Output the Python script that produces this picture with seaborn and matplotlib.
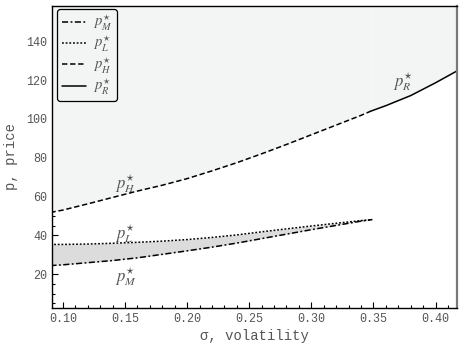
import numpy as np
import pandas as pd
import matplotlib
matplotlib.use("Agg")
import matplotlib.pyplot as plt
from matplotlib.ticker import MultipleLocator, FormatStrFormatter
import seaborn as sns

# Price thresholds against volatility
sigma_h = [0.09, 0.10, 0.12, 0.14, 0.16, 0.18, 0.20, 0.22, 0.24, 0.26, 0.28, 0.30, 0.32, 0.34, 0.348]
p_high = [51.8, 53.0, 56.2, 59.5, 62.8, 65.8, 69.2, 73.2, 77.4, 82.0, 86.8, 91.8, 96.8, 101.8, 104.0]

sigma_r = [0.348, 0.36, 0.38, 0.39, 0.40, 0.417]
p_reserve = [104.0, 106.8, 112.0, 115.3, 118.6, 124.6]

sigma_lm = [0.09, 0.10, 0.12, 0.14, 0.16, 0.18, 0.20, 0.22, 0.24, 0.26, 0.28, 0.30, 0.32, 0.34, 0.349]
p_low = [35.3, 35.3, 35.5, 35.9, 36.4, 37.0, 37.8, 38.9, 40.2, 41.8, 43.3, 44.8, 46.2, 47.6, 48.1]
p_mid = [24.4, 24.8, 25.9, 27.0, 28.4, 30.2, 32.0, 33.9, 36.0, 38.3, 40.6, 42.9, 45.1, 47.3, 48.1]

x_ticks = [0.10, 0.15, 0.20, 0.25, 0.30, 0.35, 0.40]
y_ticks = [20, 40, 60, 80, 100, 120, 140]
x_range = (0.0915, 0.417)
y_range = (2.7, 158.3)

sns.set_theme(style="ticks")
plt.rcParams["font.family"] = ["Liberation Mono", "DejaVu Sans"]
plt.rcParams["mathtext.fontset"] = "stix"

text_grey = "#555555"
upper_fill = "#f3f5f5"
band_fill = "#dcdcdc"

fig = plt.figure(figsize=(4.69, 3.49), dpi=100)
ax = fig.add_axes([0.1115, 0.1183, 0.8623, 0.8654])

df_h = pd.DataFrame({"sigma": sigma_h, "p": p_high})
df_r = pd.DataFrame({"sigma": sigma_r, "p": p_reserve})
df_l = pd.DataFrame({"sigma": sigma_lm, "p": p_low})
df_m = pd.DataFrame({"sigma": sigma_lm, "p": p_mid})

# shaded regions
ax.fill_between(sigma_h, p_high, y_range[1], color=upper_fill, lw=0)
ax.fill_between(sigma_r, p_reserve, y_range[1], color=upper_fill, lw=0)
ax.fill_between(sigma_lm, p_mid, p_low, color=band_fill, lw=0)

lw = 1.1
sns.lineplot(data=df_m, x="sigma", y="p", ax=ax, color="black", lw=lw,
             linestyle=(0, (4, 1.6, 1.2, 1.6)), label=r"$p_M^{\star}$")
sns.lineplot(data=df_l, x="sigma", y="p", ax=ax, color="black", lw=lw,
             linestyle=(0, (1.2, 1.2)), label=r"$p_L^{\star}$")
sns.lineplot(data=df_h, x="sigma", y="p", ax=ax, color="black", lw=lw,
             linestyle=(0, (3.5, 1.8)), label=r"$p_H^{\star}$")
sns.lineplot(data=df_r, x="sigma", y="p", ax=ax, color="black", lw=lw,
             linestyle="-", label=r"$p_R^{\star}$")

ax.set_xlim(*x_range)
ax.set_ylim(*y_range)
ax.set_xticks(x_ticks)
ax.set_yticks(y_ticks)
ax.xaxis.set_major_formatter(FormatStrFormatter("%.2f"))
ax.xaxis.set_minor_locator(MultipleLocator(0.01))
ax.yaxis.set_minor_locator(MultipleLocator(5))
ax.tick_params(which="both", direction="in", top=False, right=False,
               labelsize=8.5, labelcolor=text_grey, color="black", width=0.8)
ax.tick_params(which="major", length=4.5)
ax.tick_params(which="minor", length=2.5)

ax.set_xlabel("σ, volatility", fontsize=10, color=text_grey, labelpad=3)
ax.set_ylabel("p, price", fontsize=10, color=text_grey, labelpad=6)

for side in ["left", "bottom", "top"]:
    ax.spines[side].set_color("black")
    ax.spines[side].set_linewidth(1.0)
ax.spines["right"].set_color("#7a7a7a")
ax.spines["right"].set_linewidth(1.6)

# curve labels
lab_kw = dict(fontsize=12, color=text_grey, ha="center", va="center")
ax.text(0.1505, 66.5, r"$p_H^{\star}$", **lab_kw)
ax.text(0.1505, 40.8, r"$p_L^{\star}$", **lab_kw)
ax.text(0.1505, 19.0, r"$p_M^{\star}$", **lab_kw)
ax.text(0.3740, 119.0, r"$p_R^{\star}$", **lab_kw)

leg = ax.legend(loc="upper left", bbox_to_anchor=(0.012, 0.99), borderaxespad=0,
                fancybox=True, frameon=True, fontsize=10.5, handlelength=1.7,
                handletextpad=0.45, labelspacing=0.08, borderpad=0.3,
                labelcolor=text_grey)
frame = leg.get_frame()
frame.set_facecolor(upper_fill)
frame.set_edgecolor("black")
frame.set_linewidth(0.9)
frame.set_alpha(1)

fig.savefig("out.png", dpi=100)
